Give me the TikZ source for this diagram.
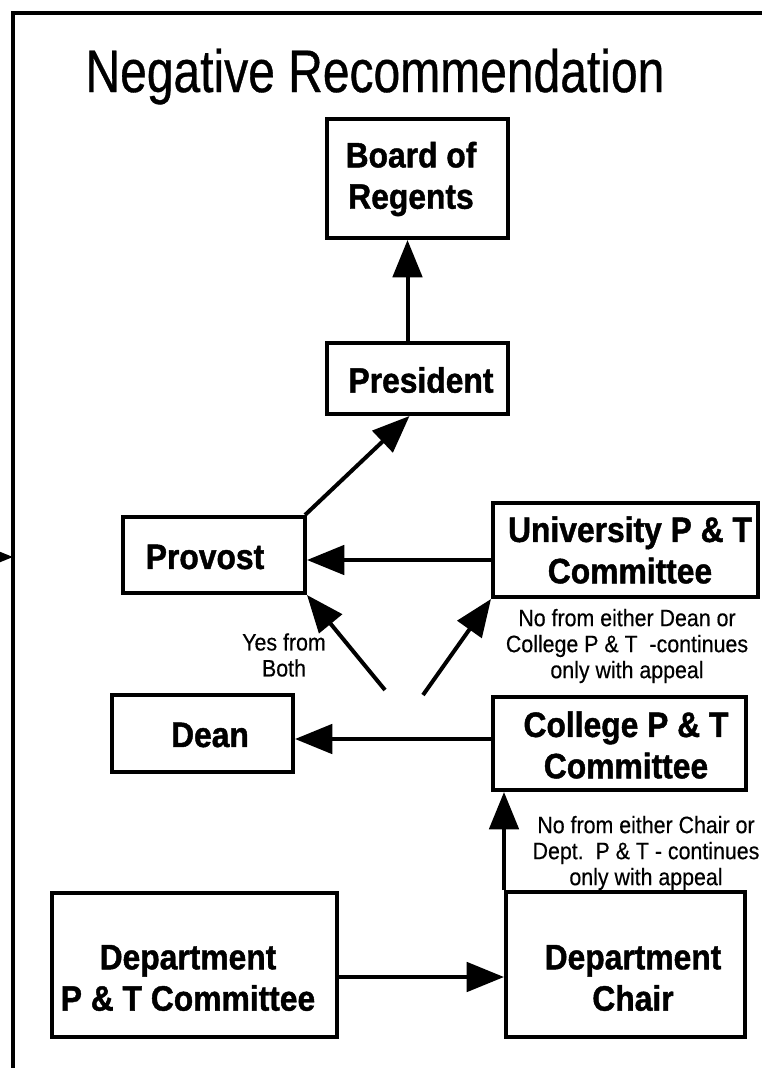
\documentclass[tikz,border=0pt]{standalone}
\usepackage{fontspec}
\setmainfont{Liberation Sans}
\newfontfamily\titlefont[FakeStretch=0.8, FakeBold=0.6]{Liberation Sans}
\newfontfamily\boxfont[FakeStretch=0.9, BoldFeatures={FakeBold=1.2}]{Liberation Sans}
\newfontfamily\notefont[FakeStretch=0.9, FakeBold=0.4]{Liberation Sans}
\usetikzlibrary{arrows.meta}
\usetikzlibrary{calc}

\tikzset{
  unit/.style={draw, line width=3pt, inner sep=0pt},
  unittext/.style={inner sep=0pt, align=center,
    font=\boxfont\bfseries\fontsize{26.5}{31}\selectfont},
  note/.style={inner sep=0pt, align=center,
    font=\notefont\fontsize{17.8}{19.5}\selectfont},
  arr/.style={line width=3pt, -{Triangle[length=28pt,width=22pt]}}
}

\begin{document}
\begin{tikzpicture}[x=0.75pt,y=0.75pt,yscale=-1]
\useasboundingbox (0,0) rectangle (761,1068);

%Shape: Frame
\draw [line width=3pt] (13,1075) -- (13,13) -- (770,13) ;
\coordinate (edgein) at (-40,557);
\coordinate (edgetip) at (13,557);
\draw [arr] (edgein) -- (edgetip) ;

% Text Node
\node [anchor=base, font=\titlefont\fontsize{45}{54}\selectfont] (heading) at (375,92) {Negative Recommendation};

%Shape: Rectangle
\node [unit, minimum width=135.75pt, minimum height=89.25pt] (board) at (417.5,178.5) {};
\node [unit, minimum width=135.75pt, minimum height=53.25pt] (president) at (417.5,378.5) {};
\node [unit, minimum width=136.5pt, minimum height=57pt] (provost) at (214,555) {};
\node [unit, minimum width=198.75pt, minimum height=70.5pt] (university) at (625.5,550) {};
\node [unit, minimum width=135.75pt, minimum height=57.75pt] (dean) at (202.5,733.5) {};
\node [unit, minimum width=189.75pt, minimum height=69.75pt] (college) at (619.5,743.5) {};
\node [unit, minimum width=213.75pt, minimum height=108pt] (deptpt) at (194.5,965) {};
\node [unit, minimum width=179.25pt, minimum height=108.75pt] (chair) at (625.5,964.5) {};

% Text Node
\node [unittext] (board-t) at (411,179) {Board of\\Regents};
\node [unittext] (president-t) at (421,380) {President};
\node [unittext] (provost-t) at (205,557) {Provost};
\node [unittext] (university-t) at (630,550) {University P \& T\\Committee};
\node [unittext] (dean-t) at (210,735) {Dean};
\node [unittext] (college-t) at (626,745) {College P \& T\\Committee};
\node [unittext] (deptpt-t) at (188,978) {Department\\P \& T Committee};
\node [unittext] (chair-t) at (633,978) {Department\\Chair};

% Text Node
\node [note] (yesboth) at (284,655) {Yes from\\Both};
\node [note] (nodean) at (627,646) {No from either Dean or\\College P \& T\ \ -continues\\only with appeal};
\node [note] (nochair) at (646,853) {No from either Chair or\\Dept.\ \ P \& T - continues\\only with appeal};

%Straight Lines
\draw [arr] ($(president.north)+(-10,0)$) -- ($(board.south)+(-10,0)$) ;
\draw [arr] ($(provost.north east)+(-2,0)$) -- ($(president.south)+(-8,0)$) ;
\draw [arr] ($(university.west)+(0,10)$) -- ($(provost.east)+(0,5)$) ;
\coordinate (yesfoot) at (385,690);
\coordinate (nofoot) at (423,695);
\draw [arr] (yesfoot) -- (provost.south east) ;
\draw [arr] (nofoot) -- (university.south west) ;
\draw [arr] ($(college.west)+(0,-4.5)$) -- ($(dean.east)+(0,5.5)$) ;
\draw [arr] ($(deptpt.east)+(0,12)$) -- ($(chair.west)+(0,12.5)$) ;
\draw [arr] (chair.north west) -- ($(college.south west)+(13,0)$) ;

\end{tikzpicture}
\end{document}
